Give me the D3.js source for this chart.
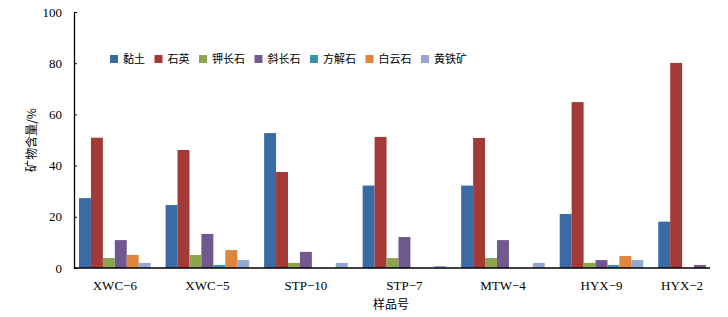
<!DOCTYPE html>
<html>
<head>
<meta charset="utf-8">
<script src="https://cdn.jsdelivr.net/npm/d3@7"></script>
<style>
  body { margin: 0; background: #fff; }
  .tick text, .cat-label { font-family: "Liberation Serif", "Times New Roman", serif; font-size: 13px; fill: #000; }
  .cjk { font-family: "Noto Sans CJK SC", sans-serif; fill: #000; }
</style>
</head>
<body>
<div id="chart"></div>
<script>
// Samples and minerals
const samples = ['XWC-6', 'XWC-5', 'STP-10', 'STP-7', 'MTW-4', 'HYX-9', 'HYX-2'];
const minerals = ['黏土', '石英', '钾长石', '斜长石', '方解石', '白云石', '黄铁矿'];
const colors = ['#3a6ba5', '#a33a37', '#8ba552', '#71588f', '#3c93ae', '#e0853d', '#93a9d1'];

// values per mineral, one per sample; null = not in the group
const clay      = [27.3, 24.6, 52.7, 32.2, 32.2, 21.1, 18.1];
const quartz    = [50.9, 46.1, 37.5, 51.2, 50.8, 64.8, 80.1];
const kfeldspar = [3.9, 5.1, 2.0, 3.9, 3.9, 2.0, 0];
const plagio    = [10.9, 13.3, 6.3, 12.1, 10.9, 3.1, 1.2];
const calcite   = [null, 1.2, 0, 0, 0, 1.2, null];
const dolomite  = [5.1, 7.0, 0, 0, 0, 4.7, null];
const pyrite    = [2.0, 3.1, 2.0, 0.8, 2.0, 3.1, null];
const series = [clay, quartz, kfeldspar, plagio, calcite, dolomite, pyrite];

const yTicks = [0, 20, 40, 60, 80, 100];

const width = 728, height = 317;
const plot = { left: 74, right: 710, top: 12, bottom: 268 };

const svg = d3.select('#chart').append('svg')
  .attr('width', width)
  .attr('height', height);

// Flat list of bar slots, groups separated by a gap
const gapUnits = 1.25;
const slots = [];
const groups = [];
let u = 0;
samples.forEach((s, i) => {
  if (i > 0) u += gapUnits;
  const start = u;
  series.forEach((vals, m) => {
    if (vals[i] === null) return;
    slots.push({ sample: s, mineral: m, value: vals[i], u: u });
    u += 1;
  });
  groups.push({ name: s, start: start, end: u });
});

const x = d3.scaleLinear().domain([0, u]).range([79, 706]);
const y = d3.scaleLinear().domain([0, 100]).range([plot.bottom, plot.top]);

// Bars
svg.append('g').selectAll('rect')
  .data(slots)
  .join('rect')
  .attr('x', d => x(d.u))
  .attr('width', d => x(d.u + 1) - x(d.u))
  .attr('y', d => y(d.value))
  .attr('height', d => y(0) - y(d.value))
  .attr('fill', d => colors[d.mineral]);

// Y axis
const yAxis = svg.append('g')
  .attr('transform', `translate(${plot.left},0)`)
  .call(d3.axisLeft(y).tickValues(yTicks).tickSize(-3).tickSizeOuter(0).tickPadding(12));
yAxis.select('.domain').attr('stroke', '#000').attr('stroke-width', 1.3);
yAxis.selectAll('.tick line').attr('stroke', '#000');

// X axis line
svg.append('line')
  .attr('x1', plot.left).attr('x2', plot.right)
  .attr('y1', plot.bottom).attr('y2', plot.bottom)
  .attr('stroke', '#000').attr('stroke-width', 1.5);

// Category labels
svg.append('g').selectAll('text')
  .data(groups)
  .join('text')
  .attr('class', 'cat-label')
  .attr('x', d => (x(d.start) + x(d.end)) / 2)
  .attr('y', 290)
  .attr('text-anchor', 'middle')
  .text(d => d.name.replace('-', '−'));

// Axis titles
svg.append('text')
  .attr('class', 'cjk')
  .attr('font-size', 12)
  .attr('text-anchor', 'middle')
  .attr('transform', 'translate(36,140) rotate(-90)')
  .text('矿物含量/%');

svg.append('text')
  .attr('class', 'cjk')
  .attr('font-size', 12)
  .attr('x', 391)
  .attr('y', 309)
  .attr('text-anchor', 'middle')
  .text('样品号');

// Legend
const legend = svg.append('g').attr('transform', 'translate(110,59)');
let lx = 0;
minerals.forEach((name, i) => {
  const item = legend.append('g').attr('transform', `translate(${lx},0)`);
  item.append('rect')
    .attr('x', 0).attr('y', -4)
    .attr('width', 8).attr('height', 8)
    .attr('fill', colors[i]);
  const t = item.append('text')
    .attr('class', 'cjk')
    .attr('font-size', 11)
    .attr('x', 13)
    .attr('y', 4)
    .text(name);
  lx += 13 + t.node().getComputedTextLength() + 9.5;
});
</script>
</body>
</html>
